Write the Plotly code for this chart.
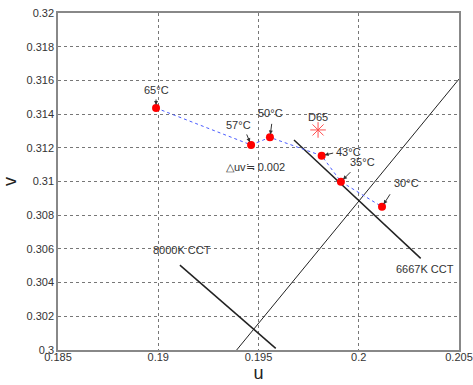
import plotly.graph_objects as go

# Data
temps = ["65°C", "57°C", "50°C", "43°C", "35°C", "30°C"]
u_vals = [0.18989, 0.19463, 0.19557, 0.19815, 0.19911, 0.20116]
v_vals = [0.31436, 0.31217, 0.31262, 0.31153, 0.30999, 0.30850]

d65_u = [0.19797]
d65_v = [0.31306]

locus_u = [0.19391, 0.205]
locus_v = [0.30000, 0.31608]

cct6667_u = [0.19677, 0.20309]
cct6667_v = [0.31246, 0.30544]

cct8000_u = [0.19108, 0.19586]
cct8000_v = [0.30504, 0.30010]

x_ticks = [0.185, 0.19, 0.195, 0.2, 0.205]
x_tick_text = ["0.185", "0.19", "0.195", "0.2", "0.205"]
y_ticks = [0.30, 0.302, 0.304, 0.306, 0.308, 0.31, 0.312, 0.314, 0.316, 0.318, 0.32]
y_tick_text = ["0.3", "0.302", "0.304", "0.306", "0.308", "0.31", "0.312", "0.314", "0.316", "0.318", "0.32"]

FONT = "Liberation Sans, Arial, sans-serif"
TXT = "#333333"

fig = go.Figure()

fig.add_trace(go.Scatter(x=locus_u, y=locus_v, mode="lines",
                         line=dict(color="#222222", width=1), hoverinfo="skip"))
fig.add_trace(go.Scatter(x=cct6667_u, y=cct6667_v, mode="lines",
                         line=dict(color="#222222", width=1.5), hoverinfo="skip"))
fig.add_trace(go.Scatter(x=cct8000_u, y=cct8000_v, mode="lines",
                         line=dict(color="#222222", width=1.5), hoverinfo="skip"))
fig.add_trace(go.Scatter(x=u_vals, y=v_vals, mode="lines",
                         line=dict(color="#4a5cff", width=1, dash="dot"), hoverinfo="skip"))
fig.add_trace(go.Scatter(x=u_vals, y=v_vals, mode="markers",
                         marker=dict(color="#ff0000", size=8), hoverinfo="skip"))
fig.add_trace(go.Scatter(x=d65_u, y=d65_v, mode="markers",
                         marker=dict(symbol="asterisk-open", color="#ff5050", size=13,
                                     line=dict(color="#ff5050", width=1)),
                         hoverinfo="skip"))

# label offsets (pixels) for the temperature annotations: (text dx, dy, arrow tail dx, dy)
label_style = [
    (0, -18, 0, -10),
    (-13, -20, -5, -12),
    (1, -24, 2, -15),
    (27, -4, 13, -3),
    (22, -20, 11, -11),
    (24, -24, 9, -14),
]

for t, u, v, (tx, ty, ax, ay) in zip(temps, u_vals, v_vals, label_style):
    fig.add_annotation(x=u, y=v, text="", showarrow=True, arrowhead=2, arrowsize=0.8,
                       arrowwidth=1, arrowcolor="#333333", ax=ax, ay=ay, standoff=3)
    fig.add_annotation(x=u, y=v, text=t, showarrow=False, xshift=tx, yshift=-ty,
                       font=dict(family=FONT, size=11, color=TXT))

fig.add_annotation(x=d65_u[0], y=d65_v[0], text="D65", showarrow=False, yshift=13,
                   font=dict(family=FONT, size=11, color=TXT))
fig.add_annotation(x=u_vals[1], y=v_vals[1], text="\u25b3uv\u2252 0.002", showarrow=False,
                   xshift=4, yshift=-22, font=dict(family=FONT, size=11, color=TXT))
fig.add_annotation(x=cct8000_u[0], y=cct8000_v[0], text="8000K CCT", showarrow=False,
                   xshift=2, yshift=15, font=dict(family=FONT, size=11, color=TXT))
fig.add_annotation(x=cct6667_u[1], y=cct6667_v[1], text="6667K CCT", showarrow=False,
                   xshift=4, yshift=-11, font=dict(family=FONT, size=11, color=TXT))

axis_common = dict(showgrid=True, gridcolor="#777777", griddash="dot", gridwidth=1,
                   showline=True, linecolor="#888888", linewidth=1.5, mirror=True,
                   zeroline=False, ticks="", ticklen=0, automargin=False,
                   ticklabeloverflow="allow")

fig.update_layout(
    width=473, height=385,
    margin=dict(l=58, r=14, t=13, b=35),
    paper_bgcolor="white", plot_bgcolor="white",
    showlegend=False,
    xaxis=dict(range=[0.185, 0.205], tickvals=x_ticks, ticktext=x_tick_text,
               ticklabelstandoff=-4,
               tickfont=dict(family=FONT, size=11, color=TXT),
               title=dict(text="u", font=dict(family=FONT, size=18, color="#222222"), standoff=2),
               **axis_common),
    yaxis=dict(range=[0.30, 0.32], tickvals=y_ticks, ticktext=y_tick_text,
               tickfont=dict(family=FONT, size=11, color=TXT),
               title=dict(text="v", font=dict(family=FONT, size=18, color="#222222"), standoff=6),
               **axis_common),
)

fig.write_html("out.html", config={"displayModeBar": False},
               post_script="document.body.style.margin='0';document.body.style.overflow='hidden';")
